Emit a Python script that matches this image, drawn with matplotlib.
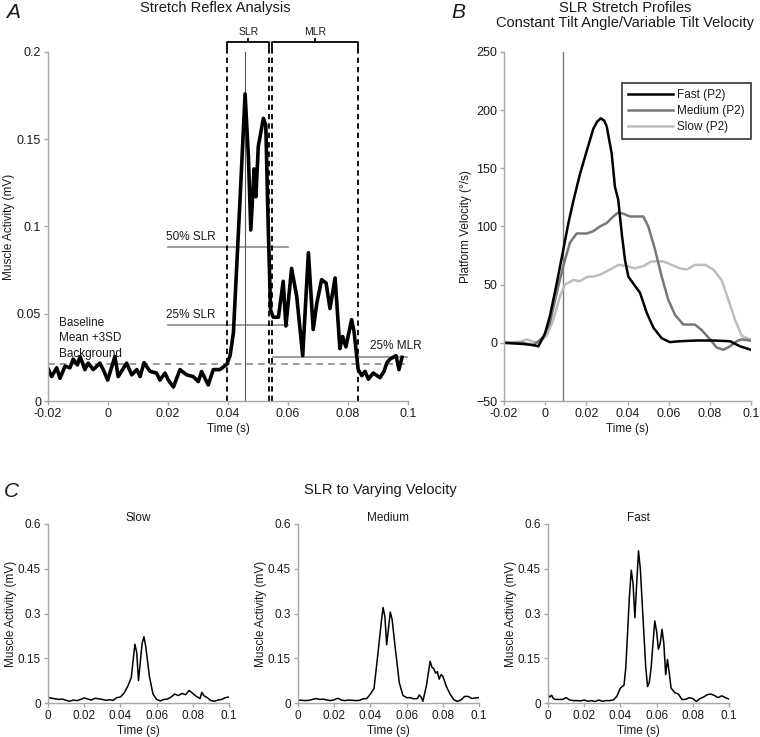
import matplotlib

matplotlib.use("Agg")

import matplotlib.pyplot as plt

plt.rcParams["font.family"] = ["Liberation Sans", "DejaVu Sans"]

# ---- Panel A: stretch reflex EMG trace ----
emg_time = [
    -0.0201, -0.0188, -0.0171, -0.0160, -0.0143, -0.0127, -0.0116, -0.0102, -0.0093,
    -0.0077, -0.0066, -0.0049, -0.0027, -0.0016, -0.0001, 0.0023, 0.0034, 0.0062,
    0.0079, 0.0096, 0.0107, 0.0120, 0.0140, 0.0162, 0.0173, 0.0190, 0.0201, 0.0218,
    0.0240, 0.0262, 0.0284, 0.0301, 0.0312, 0.0334, 0.0351, 0.0373, 0.0396, 0.0407,
    0.0418, 0.0429, 0.0440, 0.0457, 0.0468, 0.0476, 0.0487, 0.0493, 0.0501, 0.0518,
    0.0526, 0.0534, 0.0542, 0.0551, 0.0568, 0.0584, 0.0593, 0.0612, 0.0629, 0.0649,
    0.0668, 0.0684, 0.0696, 0.0712, 0.0727, 0.0740, 0.0757, 0.0773, 0.0782, 0.0793,
    0.0812, 0.0820, 0.0834, 0.0846, 0.0857, 0.0868, 0.0884, 0.0907, 0.0920, 0.0930,
    0.0940, 0.0950, 0.0960, 0.0970, 0.0980,
]
emg_value = [
    0.019, 0.014, 0.019, 0.013, 0.020, 0.019, 0.024, 0.0207, 0.0255,
    0.018, 0.0217, 0.018, 0.0217, 0.018, 0.012, 0.0255, 0.014, 0.0217,
    0.015, 0.018, 0.014, 0.022, 0.017, 0.016, 0.012, 0.016, 0.012, 0.008,
    0.018, 0.015, 0.014, 0.0111, 0.0169, 0.0092, 0.018, 0.018, 0.021, 0.026,
    0.039, 0.077, 0.115, 0.176, 0.140, 0.098, 0.133, 0.117, 0.146, 0.162,
    0.158, 0.100, 0.052, 0.048, 0.048, 0.0686, 0.043, 0.076, 0.060, 0.026,
    0.085, 0.041, 0.056, 0.0695, 0.0676, 0.053, 0.0705, 0.030, 0.037, 0.031,
    0.0466, 0.040, 0.018, 0.0145, 0.017, 0.0125, 0.016, 0.0134, 0.017, 0.022,
    0.024, 0.025, 0.026, 0.018, 0.025,
]
a_xticks = [-0.02, 0, 0.02, 0.04, 0.06, 0.08, 0.1]
a_xticklabels = ["-0.02", "0", "0.02", "0.04", "0.06", "0.08", "0.1"]
a_yticks = [0, 0.05, 0.1, 0.15, 0.2]
a_yticklabels = ["0", "0.05", "0.1", "0.15", "0.2"]
slr_window = [0.0398, 0.0537]
mlr_window = [0.0548, 0.0834]
peak_time = 0.0458
baseline_level = 0.0213
slr50_level = 0.0883
slr25_level = 0.0437
mlr25_level = 0.0253

# ---- Panel B: platform velocity profiles ----
fast_t = [-0.02, -0.0106, -0.0057, -0.0033, -0.0001, 0.0023, 0.0056, 0.0088, 0.0113,
          0.0137, 0.0169, 0.0202, 0.0234, 0.0252, 0.0270, 0.0287, 0.0299, 0.0323,
          0.0339, 0.0355, 0.0372, 0.0388, 0.0404, 0.0428, 0.0461, 0.0493, 0.0526,
          0.0566, 0.0606, 0.0655, 0.0736, 0.0817, 0.0898, 0.0947, 0.1]
fast_v = [0, -1, -2, -3, 8, 23, 51, 80, 103,
          122, 145, 165, 184, 190, 193, 191, 186, 163,
          134, 123, 94, 71, 57, 51, 43, 26, 13,
          4, 0.6, 1.4, 2, 2, 1.4, -3, -6]
medium_t = [-0.02, -0.0106, -0.0057, -0.0009, 0.0023, 0.0056, 0.0088, 0.0120, 0.0153,
            0.0202, 0.0234, 0.0266, 0.0299, 0.0331, 0.0355, 0.0380, 0.0412, 0.0453,
            0.0477, 0.0501, 0.0534, 0.0566, 0.0598, 0.0631, 0.0671, 0.0728, 0.0760,
            0.0801, 0.0833, 0.0866, 0.0898, 0.0930, 0.0955, 0.0995]
medium_v = [0, 0, -2, 5, 17, 43, 66, 86, 94,
            94, 96, 100, 103, 108.6, 112, 111, 108.6, 108.6,
            108.6, 100, 80, 57, 37, 24, 15.7, 15.7, 11,
            3, -4, -6, -3, 1.4, 3, 2]
slow_t = [-0.02, -0.0120, -0.0090, -0.0060, -0.0030, 0.0007, 0.0040, 0.0072, 0.0096,
          0.0137, 0.0169, 0.0202, 0.0234, 0.0266, 0.0315, 0.0355, 0.0396, 0.0436,
          0.0477, 0.0517, 0.0574, 0.0615, 0.0655, 0.0687, 0.0728, 0.0777, 0.0817,
          0.0857, 0.0890, 0.0922, 0.0955, 0.0995]
slow_v = [0, 1, 3, 1, 0, 6, 20, 40, 50,
          54, 53, 56.6, 57, 58.6, 63, 67, 66, 64,
          66, 70, 70, 67, 64, 63, 67, 67, 63,
          54, 37, 20, 6, 3]
stretch_onset = 0.0085
b_yticks = [-50, 0, 50, 100, 150, 200, 250]

# ---- Panel C: SLR to varying velocity ----
c_slow_t = [0.000, 0.002, 0.004, 0.006, 0.008, 0.010, 0.012, 0.014, 0.016, 0.018,
            0.020, 0.022, 0.024, 0.026, 0.028, 0.030, 0.032, 0.034, 0.036, 0.038,
            0.040, 0.042, 0.044, 0.046, 0.048, 0.049, 0.050, 0.052, 0.053, 0.054,
            0.056, 0.058, 0.060, 0.062, 0.064, 0.066, 0.068, 0.070, 0.072, 0.074,
            0.076, 0.078, 0.080, 0.082, 0.084, 0.085, 0.086, 0.088, 0.090, 0.092,
            0.094, 0.096, 0.098, 0.100]
c_slow_v = [0.019, 0.016, 0.014, 0.012, 0.013, 0.009, 0.006, 0.010, 0.008, 0.012,
            0.017, 0.013, 0.010, 0.016, 0.014, 0.012, 0.009, 0.011, 0.009, 0.018,
            0.020, 0.033, 0.055, 0.085, 0.197, 0.170, 0.075, 0.200, 0.222, 0.190,
            0.090, 0.030, 0.012, 0.007, 0.012, 0.013, 0.020, 0.030, 0.025, 0.032,
            0.028, 0.042, 0.032, 0.022, 0.015, 0.036, 0.025, 0.018, 0.008, 0.006,
            0.010, 0.012, 0.018, 0.020]
c_medium_t = [0.000, 0.002, 0.004, 0.006, 0.008, 0.010, 0.012, 0.014, 0.016, 0.018,
              0.020, 0.022, 0.024, 0.026, 0.028, 0.030, 0.032, 0.034, 0.036, 0.038,
              0.040, 0.042, 0.044, 0.046, 0.047, 0.048, 0.049, 0.050, 0.051, 0.052,
              0.054, 0.056, 0.058, 0.060, 0.062, 0.064, 0.066, 0.067, 0.068, 0.069,
              0.071, 0.073, 0.074, 0.075, 0.076, 0.077, 0.078, 0.079, 0.080, 0.082,
              0.084, 0.086, 0.088, 0.090, 0.092, 0.094, 0.096, 0.098, 0.100]
c_medium_v = [0.010, 0.009, 0.008, 0.009, 0.012, 0.015, 0.012, 0.013, 0.010, 0.008,
              0.011, 0.016, 0.010, 0.008, 0.010, 0.009, 0.008, 0.009, 0.014, 0.015,
              0.030, 0.048, 0.157, 0.270, 0.320, 0.290, 0.195, 0.250, 0.305, 0.280,
              0.170, 0.067, 0.025, 0.018, 0.018, 0.014, 0.015, 0.027, 0.020, 0.006,
              0.060, 0.140, 0.120, 0.115, 0.100, 0.105, 0.080, 0.095, 0.090, 0.055,
              0.030, 0.012, 0.005, 0.010, 0.022, 0.022, 0.015, 0.017, 0.018]
c_fast_t = [0.000, 0.001, 0.002, 0.003, 0.004, 0.006, 0.008, 0.010, 0.012, 0.014,
            0.016, 0.018, 0.020, 0.022, 0.024, 0.026, 0.028, 0.030, 0.032, 0.034,
            0.036, 0.038, 0.040, 0.042, 0.043, 0.044, 0.045, 0.046, 0.047, 0.048,
            0.049, 0.050, 0.051, 0.052, 0.053, 0.054, 0.055, 0.056, 0.057, 0.058,
            0.059, 0.060, 0.061, 0.062, 0.063, 0.064, 0.065, 0.066, 0.067, 0.068,
            0.070, 0.072, 0.074, 0.076, 0.078, 0.080, 0.082, 0.084, 0.086, 0.088,
            0.090, 0.092, 0.094, 0.096, 0.098, 0.100]
c_fast_v = [0.028, 0.020, 0.026, 0.015, 0.012, 0.012, 0.012, 0.018, 0.010, 0.008,
            0.008, 0.007, 0.010, 0.006, 0.008, 0.005, 0.010, 0.006, 0.008, 0.008,
            0.010, 0.022, 0.050, 0.060, 0.120, 0.240, 0.360, 0.445, 0.400, 0.286,
            0.400, 0.510, 0.450, 0.340, 0.230, 0.120, 0.055, 0.070, 0.120, 0.200,
            0.275, 0.240, 0.180, 0.200, 0.247, 0.200, 0.095, 0.146, 0.100, 0.050,
            0.035, 0.030, 0.012, 0.012, 0.018, 0.015, 0.005, 0.015, 0.020, 0.028,
            0.030, 0.025, 0.018, 0.024, 0.018, 0.013]
c_titles = ["Slow", "Medium", "Fast"]
c_xticks = [0, 0.02, 0.04, 0.06, 0.08, 0.1]
c_xticklabels = ["0", "0.02", "0.04", "0.06", "0.08", "0.1"]
c_yticks = [0, 0.15, 0.3, 0.45, 0.6]
c_yticklabels = ["0", "0.15", "0.3", "0.45", "0.6"]

SPINE = "#a8a8a8"
TXT = "#1a1a1a"
W, H = 760, 737


def px_rect(x0, y0, x1, y1):
    return [x0 / W, 1 - y1 / H, (x1 - x0) / W, (y1 - y0) / H]


def style_axes(ax, fs=9):
    for side in ("top", "right"):
        ax.spines[side].set_visible(False)
    for side in ("left", "bottom"):
        ax.spines[side].set_color(SPINE)
        ax.spines[side].set_linewidth(1.0)
    ax.tick_params(direction="out", length=3, width=1, color=SPINE,
                   labelsize=fs, labelcolor=TXT, pad=2)


fig = plt.figure(figsize=(W / 100, H / 100), dpi=100)

# ---------- Panel A ----------
ax_a = fig.add_axes(px_rect(48, 52, 408, 401))
style_axes(ax_a)
ax_a.set_xlim(-0.02, 0.1)
ax_a.set_ylim(0, 0.2)
ax_a.set_xticks(a_xticks)
ax_a.set_xticklabels(a_xticklabels)
ax_a.set_yticks(a_yticks)
ax_a.set_yticklabels(a_yticklabels)
ax_a.set_xlabel("Time (s)", fontsize=8.5, color=TXT, labelpad=2)
ax_a.set_ylabel("Muscle Activity (mV)", fontsize=8.5, color=TXT)
ax_a.yaxis.set_label_coords(-0.092, 0.5)

ax_a.axhline(baseline_level, color="#8a8a8a", linestyle=(0, (4, 3)), linewidth=1.2)
ax_a.plot([0.02, 0.06], [slr50_level] * 2, color="#8a8a8a", linewidth=1.2)
ax_a.plot([0.02, 0.06], [slr25_level] * 2, color="#8a8a8a", linewidth=1.2)
ax_a.plot([0.0549, 0.1], [mlr25_level] * 2, color="#8a8a8a", linewidth=1.2)
ax_a.plot([peak_time, peak_time], [0, 0.2], color="#555555", linewidth=0.8)
ax_a.plot(emg_time, emg_value, color="black", linewidth=2.6, solid_joinstyle="round")

for x in slr_window + mlr_window:
    ax_a.plot([x, x], [0, 0.2035], color="black", linestyle=(0, (3, 2.2)),
              linewidth=1.3, clip_on=False)

for (x0, x1), name in ((slr_window, "SLR"), (mlr_window, "MLR")):
    xm = (x0 + x1) / 2
    ax_a.plot([x0, x0, x1, x1], [0.2025, 0.2055, 0.2055, 0.2025], color="black",
              linewidth=1.3, clip_on=False)
    ax_a.plot([xm, xm], [0.2055, 0.2075], color="black", linewidth=1.3, clip_on=False)
    ax_a.text(xm, 0.2085, name, ha="center", va="bottom", fontsize=7.5, color=TXT)

ax_a.text(0.0193, slr50_level + 0.002, "50% SLR", fontsize=8.5, color=TXT, va="bottom")
ax_a.text(0.0193, slr25_level + 0.002, "25% SLR", fontsize=8.5, color=TXT, va="bottom")
ax_a.text(0.0873, mlr25_level + 0.003, "25% MLR", fontsize=8.5, color=TXT, va="bottom",
          clip_on=False)
ax_a.text(-0.0163, 0.0237, "Baseline\nMean +3SD\nBackground", fontsize=8.5, color=TXT,
          va="bottom", ha="left", linespacing=1.35)

fig.text(215 / W, 1 - 1 / H, "Stretch Reflex Analysis", ha="center", va="top",
         fontsize=10.5, color=TXT)
fig.text(6 / W, 1 - 3 / H, "A", ha="left", va="top", fontsize=15, style="italic",
         color=TXT)

# ---------- Panel B ----------
ax_b = fig.add_axes(px_rect(504, 52, 751, 401))
style_axes(ax_b)
ax_b.set_xlim(-0.02, 0.1)
ax_b.set_ylim(-50, 250)
ax_b.set_xticks(a_xticks)
ax_b.set_xticklabels(a_xticklabels)
ax_b.set_yticks(b_yticks)
ax_b.set_xlabel("Time (s)", fontsize=8.5, color=TXT, labelpad=2)
ax_b.set_ylabel("Platform Velocity (\u00b0/s)", fontsize=8.5, color=TXT)
ax_b.yaxis.set_label_coords(-0.13, 0.5)

ax_b.plot([stretch_onset, stretch_onset], [-50, 250], color="#777777", linewidth=1.0)
ax_b.plot(slow_t, slow_v, color="#bdbdbd", linewidth=1.8, label="Slow (P2)")
ax_b.plot(medium_t, medium_v, color="#777777", linewidth=1.8, label="Medium (P2)")
ax_b.plot(fast_t, fast_v, color="black", linewidth=1.8, label="Fast (P2)")

handles, labels = ax_b.get_legend_handles_labels()
leg = ax_b.legend(handles[::-1], labels[::-1], loc="upper left",
                  bbox_to_anchor=(622 / W, 1 - 83 / H), bbox_transform=fig.transFigure,
                  fontsize=8.5, frameon=True, fancybox=False, handlelength=3.8,
                  handletextpad=0.4, borderpad=0.5, labelspacing=0.35,
                  borderaxespad=0)
leg.get_frame().set_edgecolor("black")
leg.get_frame().set_linewidth(1.2)
for t in leg.get_texts():
    t.set_color(TXT)

fig.text(625 / W, 1 - 1 / H, "SLR Stretch Profiles\nConstant Tilt Angle/Variable Tilt Velocity",
         ha="center", va="top", fontsize=10.5, color=TXT, linespacing=1.1)
fig.text(451 / W, 1 - 3 / H, "B", ha="left", va="top", fontsize=15, style="italic",
         color=TXT)

# ---------- Panel C ----------
c_series = [(c_slow_t, c_slow_v), (c_medium_t, c_medium_v), (c_fast_t, c_fast_v)]
c_lefts = [48, 298, 548]
for left, (ts, vs), title in zip(c_lefts, c_series, c_titles):
    ax = fig.add_axes(px_rect(left, 524, left + 181, 703))
    style_axes(ax, fs=8.5)
    ax.set_xlim(0, 0.1)
    ax.set_ylim(0, 0.6)
    ax.set_xticks(c_xticks)
    ax.set_xticklabels(c_xticklabels)
    ax.set_yticks(c_yticks)
    ax.set_yticklabels(c_yticklabels)
    ax.set_xlabel("Time (s)", fontsize=8.5, color=TXT, labelpad=2)
    ax.set_ylabel("Muscle Activity (mV)", fontsize=8.5, color=TXT)
    ax.yaxis.set_label_coords(-0.171, 0.5)
    ax.plot(ts, vs, color="black", linewidth=1.1)
    ax.set_title(title, fontsize=8.5, color=TXT, pad=-4)

fig.text(380 / W, 1 - 483 / H, "SLR to Varying Velocity", ha="center", va="top",
         fontsize=10.5, color=TXT)
fig.text(4 / W, 1 - 482 / H, "C", ha="left", va="top", fontsize=15, style="italic",
         color=TXT)

fig.savefig("out.png", dpi=100)
plt.close(fig)
